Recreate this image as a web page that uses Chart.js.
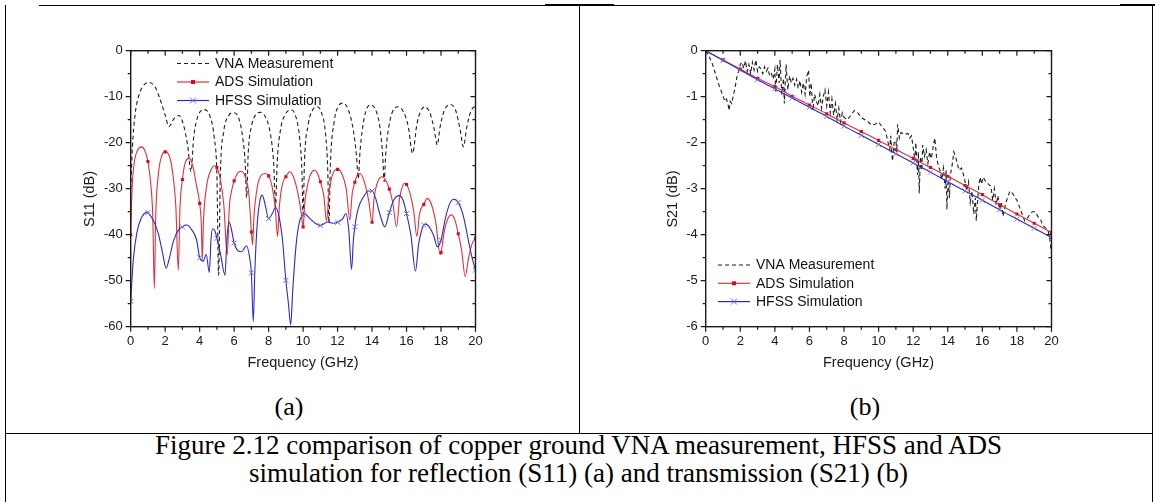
<!DOCTYPE html>
<html>
<head>
<meta charset="utf-8">
<script src="https://cdn.jsdelivr.net/npm/chart.js@4.4.1/dist/chart.umd.min.js"></script>
<style>
  html,body{margin:0;padding:0;background:#fff;}
  body{width:1155px;height:502px;position:relative;overflow:hidden;font-family:"Liberation Serif","Times New Roman",serif;color:#000;}
  .ln{position:absolute;background:#000;}
  .wrap{position:absolute;top:0;}
  .lab{position:absolute;font-size:26px;line-height:28px;text-align:center;}
  .cap{position:absolute;left:5px;width:1147px;top:431px;font-size:27px;line-height:28px;text-align:center;}
</style>
</head>
<body>
<div class="ln" style="left:39px;top:5px;width:1116px;height:1px;"></div>
<div class="ln" style="left:545px;top:4px;width:69px;height:2px;"></div>
<div class="ln" style="left:1120px;top:4px;width:35px;height:2px;"></div>
<div class="ln" style="left:5px;top:5px;width:1px;height:497px;"></div>
<div class="ln" style="left:579px;top:5px;width:1px;height:428px;"></div>
<div class="ln" style="left:1152px;top:5px;width:1px;height:497px;"></div>
<div class="ln" style="left:5px;top:433px;width:1148px;height:1px;"></div>

<div class="wrap" style="left:0px;"><canvas id="c1" width="578" height="380"></canvas></div>
<div class="wrap" style="left:580px;"><canvas id="c2" width="575" height="380"></canvas></div>

<div class="lab" style="left:239px;width:100px;top:393px;">(a)</div>
<div class="lab" style="left:815px;width:100px;top:393px;">(b)</div>
<div class="cap">Figure 2.12 comparison of copper ground VNA measurement, HFSS and ADS<br>simulation for reflection (S11) (a) and transmission (S21) (b)</div>

<script>
// ---------- tick labels ----------
const freqMajorTicks = [0,2,4,6,8,10,12,14,16,18,20];
const freqMinorTicks = [1,3,5,7,9,11,13,15,17,19];
const s11MajorTicks = [0,-10,-20,-30,-40,-50,-60];
const s11MinorTicks = [-5,-15,-25,-35,-45,-55];
const s21MajorTicks = [0,-1,-2,-3,-4,-5,-6];
const s21MinorTicks = [-0.5,-1.5,-2.5,-3.5,-4.5,-5.5];
const seriesNames = ['VNA Measurement','ADS Simulation','HFSS Simulation'];

// ---------- S11 (a) ----------
const vnaS11Freq = [0,0.1,0.25,0.45,0.7,1.06,1.4,1.7,2.0,2.22,2.5,2.8,3.05,3.3,3.5,3.65,3.85,4.25,4.6,4.85,5.0,5.1,5.2,5.4,5.65,5.95,6.25,6.5,6.65,6.72,6.82,7.0,7.25,7.5,7.8,8.1,8.3,8.4,8.5,8.7,9.0,9.28,9.55,9.8,9.93,10.0,10.08,10.3,10.55,10.8,11.05,11.3,11.43,11.5,11.58,11.8,12.05,12.3,12.6,12.9,13.1,13.2,13.3,13.55,13.9,14.2,14.45,14.62,14.7,14.8,15.05,15.5,15.85,16.1,16.35,16.6,16.8,17.06,17.35,17.6,17.78,17.95,18.2,18.55,18.85,19.1,19.3,19.5,19.75,20.0];
const vnaS11dB   = [-30,-21,-14,-10,-7.8,-6.9,-7.8,-10.5,-14,-16.5,-14.8,-14.1,-16,-20.5,-26.3,-19,-14.8,-12.8,-14.3,-19,-27,-48.8,-27,-17.5,-14.3,-13.5,-14.5,-19,-25,-32,-22,-16.5,-13.9,-13.4,-14.3,-18,-25,-34,-24,-17,-13.6,-12.9,-14,-19,-26,-35.5,-24,-16,-12.9,-12.2,-13.3,-18,-26,-37.5,-25,-15.5,-12,-11.4,-12.6,-17,-23,-27.8,-22,-14.5,-11.8,-12.8,-16.5,-23,-28.5,-22,-15,-12.2,-13.5,-16.5,-22.3,-16,-13.3,-12.2,-13.5,-17,-20.5,-16.5,-12.9,-11.7,-13,-17,-20.9,-16.5,-13,-12.0];

const adsS11Freq = [0,0.08,0.2,0.4,0.64,0.85,1,1.15,1.28,1.37,1.45,1.6,1.8,2,2.25,2.45,2.62,2.76,2.86,3,3.15,3.38,3.6,3.8,4,4.1,4.15,4.22,4.4,4.65,4.85,5,5.2,5.4,5.6,5.72,5.85,6,6.2,6.43,6.65,6.85,7,7.07,7.15,7.35,7.55,7.8,8,8.2,8.38,8.52,8.62,8.8,9,9.23,9.45,9.7,9.9,10,10.1,10.3,10.5,10.68,10.85,11,11.2,11.36,11.5,11.7,12,12.25,12.5,12.71,12.85,13,13.15,13.3,13.55,13.8,14,14.12,14.35,14.6,14.85,15,15.2,15.42,15.6,15.75,15.9,16,16.2,16.42,16.6,16.75,17,17.2,17.45,17.7,17.95,18,18.2,18.4,18.61,18.82,19,19.2,19.4,19.6,19.8,20];
const adsS11dB   = [-40,-30,-24.5,-21.6,-20.9,-22,-24.1,-28.5,-36,-51.7,-36,-27,-22.8,-22,-23,-27,-34,-47.7,-34,-28,-24.5,-23.4,-25,-29,-33.2,-38,-45.5,-37,-29.5,-26,-25,-25.4,-28,-33.5,-44.4,-34,-30.5,-28.3,-26.6,-26.2,-27.5,-31,-39.4,-42.2,-36,-29.5,-27.2,-26.7,-27.2,-29.5,-34,-40.4,-34,-29,-27.4,-26.3,-27.5,-31,-35.5,-38.3,-33,-28.5,-26.4,-26,-26.8,-28.5,-31.5,-37,-31,-27,-25.8,-26.8,-30,-36.8,-31,-28.6,-27,-26.7,-28.5,-32.5,-37.3,-32,-28.3,-27.4,-28.6,-30.1,-33,-38.3,-32,-29.6,-28.8,-29.1,-31,-35,-40.4,-35.5,-33.4,-32.1,-33.5,-37.5,-44.3,-43.9,-39,-36.5,-35.7,-37,-39.8,-43.5,-49.1,-45,-42,-40.8];

const hfssS11Freq = [0,0.07,0.15,0.35,0.6,0.97,1,1.3,1.6,1.85,2.05,2.25,2.47,2.8,3,3.25,3.55,3.82,4,4.2,4.38,4.56,4.66,4.75,4.9,5,5.2,5.47,5.58,5.7,5.85,6,6.2,6.43,6.72,6.9,7,7.11,7.2,7.35,7.5,7.63,7.8,8,8.2,8.4,8.6,8.8,9,9.15,9.28,9.4,9.6,9.8,10,10.05,10.4,10.7,11,11.45,11.7,12,12.3,12.48,12.65,12.81,12.92,13,13.2,13.5,13.8,14,14.2,14.45,14.74,15,15.25,15.57,15.8,16,16.25,16.52,16.7,16.9,17,17.12,17.4,17.6,17.78,18,18.25,18.5,18.74,19,19.3,19.6,19.8,20];
const hfssS11dB   = [-54.5,-50,-45.5,-39.7,-36.5,-35.1,-35.2,-36.8,-39.7,-44,-47.3,-45,-41.5,-38.8,-38.3,-37.9,-39,-41.1,-45,-45.8,-44.3,-48.2,-41,-38.7,-39.3,-40.8,-44,-48.8,-41,-37.2,-39,-41.8,-43.4,-43.7,-42.4,-45,-48.3,-58.9,-48,-37,-32.5,-31.4,-33.5,-36.5,-35.5,-34.1,-36,-41,-49.9,-55,-59.6,-52,-42,-37,-35.7,-35.4,-36.5,-37.5,-38,-37.2,-37.5,-37.3,-36.5,-35.4,-39,-47.5,-41,-38.3,-34.3,-31.8,-30.5,-30.5,-32,-35.5,-38.3,-35.2,-32.5,-31.5,-32.5,-35.4,-40,-47.9,-42,-38.8,-37.9,-37.7,-38.8,-40.5,-42.6,-41.2,-36.5,-33.3,-32.3,-33,-36,-41.5,-45,-47.7];

// ---------- S21 (b) ----------
const simS21Freq = [0,1,2,3,4,5,6,7,8,9,10,11,12,13,14,15,16,17,18,19,20];
const adsS21dB  = [0,-0.2,-0.4,-0.6,-0.78,-0.99,-1.18,-1.37,-1.57,-1.76,-1.95,-2.15,-2.34,-2.54,-2.73,-2.93,-3.13,-3.35,-3.55,-3.75,-3.95];
const hfssS21dB = [0,-0.21,-0.42,-0.63,-0.83,-1.03,-1.23,-1.43,-1.64,-1.84,-2.04,-2.24,-2.44,-2.64,-2.85,-3.05,-3.25,-3.46,-3.66,-3.86,-4.06];

const vnaS21Freq = [0,0.2,0.4,0.6,0.8,1.0,1.1,1.2,1.3,1.35,1.42,1.5,1.6,1.7,1.8,1.9,2.0,2.1,2.2,2.3,2.4,2.5,2.6,2.7,2.8,2.9,3.0,3.1,3.2,3.3,3.4,3.5,3.6,3.7,3.8,3.9,4.0,4.05,4.15,4.25,4.3,4.4,4.5,4.55,4.65,4.75,4.85,4.95,5.05,5.15,5.25,5.35,5.45,5.55,5.65,5.75,5.85,5.95,6.02,6.1,6.2,6.3,6.4,6.5,6.6,6.7,6.8,6.9,7.0,7.1,7.2,7.3,7.4,7.5,7.6,7.7,7.8,7.9,8.0,8.2,8.4,8.6,8.8,9.0,9.2,9.4,9.6,9.8,10.0,10.2,10.4,10.55,10.65,10.7,10.8,10.9,11.0,11.05,11.1,11.2,11.3,11.5,11.7,11.8,11.9,12.0,12.1,12.15,12.25,12.3,12.35,12.42,12.5,12.55,12.65,12.75,12.85,12.95,13.05,13.15,13.25,13.35,13.45,13.55,13.65,13.75,13.85,13.9,13.95,14.02,14.1,14.15,14.25,14.35,14.45,14.55,14.65,14.8,14.95,15.1,15.2,15.3,15.4,15.5,15.6,15.65,15.72,15.8,15.88,15.95,16.05,16.2,16.35,16.5,16.6,16.7,16.8,16.9,17.0,17.1,17.2,17.3,17.45,17.6,17.75,17.9,18.0,18.15,18.3,18.45,18.6,18.75,18.9,19.05,19.2,19.35,19.5,19.65,19.8,19.9,20.0];
const vnaS21dB   = [0,-0.12,-0.3,-0.55,-0.78,-0.98,-1.1,-1.05,-1.18,-1.3,-1.1,-1.15,-0.98,-0.8,-0.58,-0.45,-0.3,-0.25,-0.38,-0.22,-0.45,-0.3,-0.5,-0.25,-0.42,-0.2,-0.45,-0.35,-0.4,-0.5,-0.35,-0.45,-0.38,-0.55,-0.5,-0.62,-0.4,-0.9,-0.3,-0.7,-0.2,-0.95,-0.6,-1.15,-0.3,-0.85,-0.55,-0.7,-0.6,-0.75,-0.62,-0.82,-0.65,-0.9,-0.7,-0.95,-0.55,-0.42,-1.0,-0.7,-1.3,-0.95,-1.1,-1.2,-0.95,-1.25,-1.0,-0.85,-1.2,-0.9,-1.35,-1.05,-1.4,-1.15,-1.5,-1.25,-1.55,-1.35,-1.45,-1.5,-1.4,-1.3,-1.35,-1.45,-1.5,-1.55,-1.62,-1.6,-1.55,-1.65,-1.75,-2.0,-2.15,-1.85,-2.4,-2.0,-1.95,-2.2,-1.6,-1.9,-1.78,-1.82,-1.8,-1.9,-1.85,-2.1,-2.4,-2.0,-2.7,-2.2,-3.1,-2.3,-2.6,-2.05,-2.3,-2.15,-2.45,-2.2,-2.35,-2.1,-1.9,-2.3,-2.5,-2.6,-2.8,-2.55,-3.0,-2.6,-3.45,-2.8,-3.2,-2.7,-2.5,-2.2,-2.3,-2.45,-2.6,-2.55,-2.75,-3.05,-2.85,-3.3,-3.05,-3.55,-3.2,-3.7,-3.3,-2.9,-2.75,-2.9,-2.75,-2.85,-2.9,-2.95,-3.25,-3.0,-3.35,-3.15,-3.45,-3.3,-3.6,-3.4,-3.2,-3.05,-3.1,-3.2,-3.25,-3.4,-3.55,-3.7,-3.65,-3.55,-3.5,-3.5,-3.6,-3.65,-3.8,-3.85,-3.9,-4.1,-4.4];

// ---------- styling ----------
const AX = '#1a1a1a';
const VNA_C = '#1e1e1e', ADS_C = '#e0303c', ADS_M = '#d0101e', HFSS_C = '#2b2bbf', HFSS_M = '#6a6ae6';
const SANS = '"Liberation Sans", Arial, sans-serif';
Chart.defaults.font.family = SANS;
Chart.defaults.color = AX;

const pts = (xs, ys) => xs.map((x, i) => ({x: x, y: ys[i]}));
const onInt = r => c => (c.raw && Number.isInteger(c.raw.x)) ? r : 0;

const decoPlugin = {
  id: 'deco',
  afterDraw(chart) {
    const o = chart.options.plugins.deco;
    const ctx = chart.ctx;
    const xs = chart.scales.x, ys = chart.scales.y;
    const {left, right, top, bottom} = chart.chartArea;
    ctx.save();
    ctx.strokeStyle = AX;
    ctx.lineWidth = 1.4;
    ctx.strokeRect(left, top, right - left, bottom - top);
    ctx.lineWidth = 1.2;
    ctx.beginPath();
    const tick = (x1, y1, x2, y2) => { ctx.moveTo(x1, y1); ctx.lineTo(x2, y2); };
    o.xMajor.forEach(v => { const p = xs.getPixelForValue(v); tick(p, bottom, p, bottom + 5); tick(p, top, p, top + 5); });
    o.xMinor.forEach(v => { const p = xs.getPixelForValue(v); tick(p, bottom, p, bottom + 3); tick(p, top, p, top + 3); });
    o.yMajor.forEach(v => { const p = ys.getPixelForValue(v); tick(left, p, left - 5, p); tick(right, p, right - 5, p); });
    o.yMinor.forEach(v => { const p = ys.getPixelForValue(v); tick(left, p, left - 3, p); tick(right, p, right - 3, p); });
    ctx.stroke();

    // axis titles
    ctx.fillStyle = AX;
    ctx.font = '14.5px ' + SANS;
    ctx.textAlign = 'center';
    ctx.textBaseline = 'middle';
    ctx.fillText(o.xTitle, (left + right) / 2, o.xTitleY);
    ctx.save();
    ctx.translate(o.yTitleX, o.yTitleY);
    ctx.rotate(-Math.PI / 2);
    ctx.fillText(o.yTitle, 0, 0);
    ctx.restore();

    // legend
    const ds = chart.data.datasets;
    ctx.textAlign = 'left';
    ds.forEach((d, i) => {
      const y = o.legY + i * o.legGap;
      const x0 = o.legX, x1 = o.legX + 32;
      ctx.save();
      ctx.strokeStyle = d.borderColor;
      ctx.lineWidth = 1.2;
      ctx.setLineDash(d.borderDash || []);
      ctx.beginPath(); ctx.moveTo(x0, y); ctx.lineTo(x1, y); ctx.stroke();
      ctx.setLineDash([]);
      const xm = (x0 + x1) / 2;
      if (d.pointStyle === 'rect') {
        ctx.fillStyle = d.pointBackgroundColor;
        ctx.fillRect(xm - 2, y - 2, 4, 4);
      } else if (d.pointStyle === 'crossRot') {
        ctx.strokeStyle = d.pointBorderColor;
        ctx.lineWidth = 1;
        ctx.beginPath();
        ctx.moveTo(xm - 3, y - 3); ctx.lineTo(xm + 3, y + 3);
        ctx.moveTo(xm - 3, y + 3); ctx.lineTo(xm + 3, y - 3);
        ctx.stroke();
      }
      ctx.restore();
      ctx.fillStyle = '#111';
      ctx.font = '14px ' + SANS;
      ctx.fillText(d.label, x1 + 6, y + 0.5);
    });
    ctx.restore();
  }
};

function makeChart(id, cfg) {
  return new Chart(document.getElementById(id), {
    type: 'line',
    data: {
      datasets: [
        { label: seriesNames[0], data: cfg.vna, borderColor: VNA_C, borderWidth: 1.1, borderDash: [4, 3],
          pointRadius: 0, tension: 0, cubicInterpolationMode: cfg.smooth ? 'monotone' : 'default', order: 3 },
        { label: seriesNames[1], data: cfg.ads, borderColor: ADS_C, borderWidth: 1.1,
          pointStyle: 'rect', pointRadius: onInt(2.2), pointBackgroundColor: ADS_M, pointBorderColor: ADS_M, pointBorderWidth: 0,
          cubicInterpolationMode: 'monotone', order: 2 },
        { label: seriesNames[2], data: cfg.hfss, borderColor: HFSS_C, borderWidth: 1.1,
          pointStyle: 'crossRot', pointRadius: onInt(3.5), pointBackgroundColor: HFSS_M, pointBorderColor: HFSS_M, pointBorderWidth: 1,
          cubicInterpolationMode: 'monotone', order: 1 }
      ]
    },
    options: {
      responsive: false, animation: false, devicePixelRatio: 1,
      layout: { padding: cfg.padding },
      plugins: {
        legend: { display: false }, tooltip: { enabled: false },
        deco: cfg.deco
      },
      scales: {
        x: {
          type: 'linear', min: 0, max: 20,
          grid: { display: false, drawTicks: false }, border: { display: false },
          afterBuildTicks: s => { s.ticks = freqMajorTicks.map(v => ({value: v})); },
          afterFit: s => { s.height = 40; },
          ticks: { font: { size: 13 }, color: AX, padding: 7, maxRotation: 0, autoSkip: false }
        },
        y: {
          type: 'linear', min: cfg.yMin, max: 0,
          grid: { display: false, drawTicks: false }, border: { display: false },
          afterBuildTicks: s => { s.ticks = cfg.yMajor.map(v => ({value: v})); },
          afterFit: s => { s.width = 50; },
          ticks: { font: { size: 13 }, color: AX, padding: 8, autoSkip: false }
        }
      }
    },
    plugins: [decoPlugin]
  });
}

makeChart('c1', {
  vna: pts(vnaS11Freq, vnaS11dB), ads: pts(adsS11Freq, adsS11dB), hfss: pts(hfssS11Freq, hfssS11dB),
  smooth: true, yMin: -60, yMajor: s11MajorTicks,
  padding: { left: 80.7, right: 102.5, top: 50.7, bottom: 13.3 },
  deco: { xMajor: freqMajorTicks, xMinor: freqMinorTicks, yMajor: s11MajorTicks, yMinor: s11MinorTicks,
          xTitle: 'Frequency (GHz)', yTitle: 'S11 (dB)', xTitleY: 363, yTitleX: 90, yTitleY: 199,
          legX: 177, legY: 63.5, legGap: 18.5 }
});

makeChart('c2', {
  vna: pts(vnaS21Freq, vnaS21dB), ads: pts(simS21Freq, adsS21dB), hfss: pts(simS21Freq, hfssS21dB),
  smooth: false, yMin: -6, yMajor: s21MajorTicks,
  padding: { left: 75.7, right: 103.5, top: 50.7, bottom: 13.3 },
  deco: { xMajor: freqMajorTicks, xMinor: freqMinorTicks, yMajor: s21MajorTicks, yMinor: s21MinorTicks,
          xTitle: 'Frequency (GHz)', yTitle: 'S21 (dB)', xTitleY: 363, yTitleX: 92.5, yTitleY: 199,
          legX: 138, legY: 265, legGap: 18.3 }
});
</script>
</body>
</html>
